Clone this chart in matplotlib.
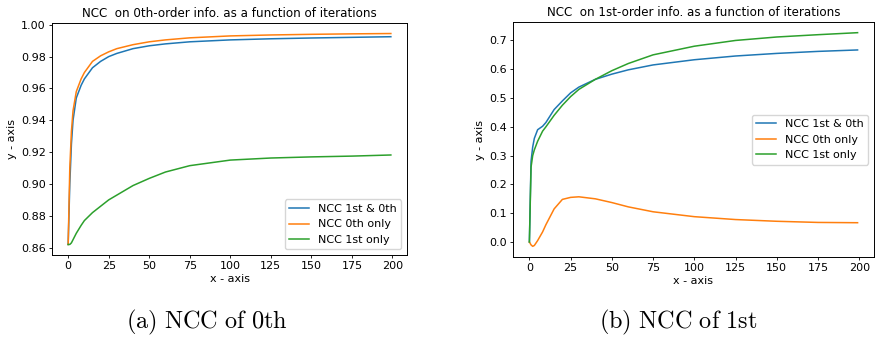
import numpy as np
import matplotlib
matplotlib.use("Agg")
import matplotlib.pyplot as plt

iters = [0, 1, 2, 3, 5, 8, 10, 15, 20, 25, 30, 40, 50, 60, 75, 100, 125, 150, 175, 199]

# (a) NCC on 0th-order info
zero_both = [0.862, 0.900, 0.925, 0.940, 0.954, 0.962, 0.966, 0.973, 0.977, 0.980, 0.982,
             0.985, 0.9868, 0.9880, 0.9893, 0.9905, 0.9912, 0.9917, 0.9921, 0.9925]
zero_0th = [0.862, 0.910, 0.933, 0.946, 0.958, 0.966, 0.970, 0.977, 0.9805, 0.983, 0.985,
            0.9875, 0.9893, 0.9905, 0.9918, 0.9930, 0.9936, 0.9940, 0.9943, 0.9945]
zero_1st = [0.862, 0.862, 0.863, 0.865, 0.869, 0.874, 0.877, 0.882, 0.886, 0.890, 0.893,
            0.899, 0.9035, 0.9075, 0.9115, 0.9150, 0.9163, 0.9170, 0.9175, 0.9182]

# (b) NCC on 1st-order info
first_both = [0.0, 0.28, 0.33, 0.36, 0.39, 0.402, 0.415, 0.46, 0.49, 0.518, 0.538,
              0.565, 0.583, 0.598, 0.615, 0.633, 0.646, 0.655, 0.662, 0.667]
first_0th = [0.0, -0.01, -0.015, -0.012, 0.005, 0.035, 0.06, 0.115, 0.148, 0.155, 0.157,
             0.150, 0.137, 0.122, 0.105, 0.088, 0.078, 0.072, 0.068, 0.067]
first_1st = [0.0, 0.26, 0.30, 0.32, 0.35, 0.385, 0.40, 0.44, 0.475, 0.505, 0.53,
             0.565, 0.595, 0.62, 0.65, 0.68, 0.70, 0.712, 0.72, 0.727]

labels = ["NCC 1st & 0th", "NCC 0th only", "NCC 1st only"]

plt.rcParams["mathtext.fontset"] = "cm"
fs = 8
lw = 1.1

fig = plt.figure(figsize=(8.76, 3.41), dpi=100)
ax1 = fig.add_axes([0.0594, 0.2522, 0.4052, 0.6804])
ax2 = fig.add_axes([0.5856, 0.2463, 0.4121, 0.6892])

panels = [
    (ax1, [zero_both, zero_0th, zero_1st], "NCC  on 0th-order info. as a function of iterations", "lower right"),
    (ax2, [first_both, first_0th, first_1st], "NCC  on 1st-order info. as a function of iterations", "center right"),
]

for ax, series, title, loc in panels:
    for ys, lab in zip(series, labels):
        ax.plot(iters, ys, label=lab, linewidth=lw)
    ax.set_title(title, fontsize=fs + 0.6, pad=4)
    ax.set_xlabel("x - axis", fontsize=fs, labelpad=2)
    ax.set_ylabel("y - axis", fontsize=fs, labelpad=3)
    ax.tick_params(labelsize=fs, length=2.5, width=0.6, pad=2)
    ax.set_xticks([0, 25, 50, 75, 100, 125, 150, 175, 200])
    for sp in ax.spines.values():
        sp.set_linewidth(0.7)
    ax.legend(loc=loc, fontsize=fs, handlelength=1.8)

ax2.set_yticks([0.0, 0.1, 0.2, 0.3, 0.4, 0.5, 0.6, 0.7])

fig.text(0.2357, 0.053, r"$\mathrm{(a)\ NCC\ of\ 0th}$", fontsize=17.5, ha="center", va="center")
fig.text(0.774, 0.053, r"$\mathrm{(b)\ NCC\ of\ 1st}$", fontsize=17.5, ha="center", va="center")

fig.savefig("out.png", dpi=100)
